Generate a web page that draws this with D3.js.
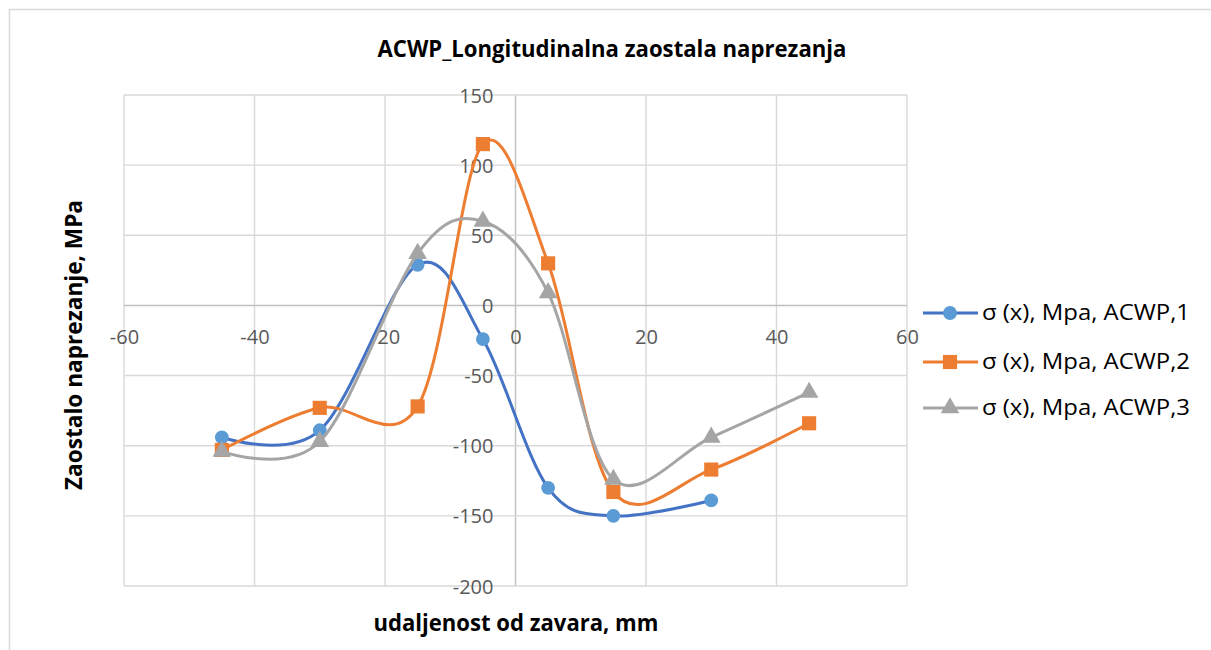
<!DOCTYPE html>
<html>
<head>
<meta charset="utf-8">
<script src="https://cdn.jsdelivr.net/npm/d3@7"></script>
<style>
  html, body { margin: 0; padding: 0; background: #fff; }
  svg { display: block; }
  text { font-family: "Open Sans", "Noto Sans", sans-serif; }
</style>
</head>
<body>
<svg id="chart" width="1211" height="650"></svg>
<script>
// Distance from the weld (mm) at each measuring point
const xValues = [-45, -30, -15, -5, 5, 15, 30, 45];

// Longitudinal residual stress σ(x), MPa, per specimen
const acwp1 = [-94, -89, 29, -24, -130, -150, -139];
const acwp2 = [-103, -73, -72, 115, 30, -133, -117, -84];
const acwp3 = [-104, -97, 37, 60, 9, -124, -94, -62];

const seriesNames = ["σ (x), Mpa, ACWP,1", "σ (x), Mpa, ACWP,2", "σ (x), Mpa, ACWP,3"];
const xTicks = [-60, -40, -20, 0, 20, 40, 60];
const yTicks = [-200, -150, -100, -50, 0, 50, 100, 150];

const titleText = "ACWP_Longitudinalna zaostala naprezanja";
const xTitle = "udaljenost od zavara, mm";
const yTitle = "Zaostalo naprezanje, MPa";

const series = [
  { name: seriesNames[0], values: acwp1, line: "#4472C4", fill: "#5B9BD5", symbol: d3.symbolCircle, size: 150 },
  { name: seriesNames[1], values: acwp2, line: "#ED7D31", fill: "#ED7D31", symbol: d3.symbolSquare, size: 200 },
  { name: seriesNames[2], values: acwp3, line: "#A5A5A5", fill: "#A5A5A5", symbol: d3.symbolTriangle, size: 150 }
];

const svg = d3.select("#chart");

// outer chart frame
svg.append("rect")
  .attr("x", 9.5).attr("y", 9.5)
  .attr("width", 1300).attr("height", 700)
  .attr("fill", "#fff")
  .attr("stroke", "#d9d9d9").attr("stroke-width", 1.5);

const plot = { left: 124, right: 907, top: 95, bottom: 586 };

const x = d3.scaleLinear().domain([-60, 60]).range([plot.left, plot.right]);
const y = d3.scaleLinear().domain([-200, 150]).range([plot.bottom, plot.top]);

// plain hyphen-minus tick labels
const fmt = d => String(d);

// gridlines
const grid = svg.append("g");
grid.selectAll("line.v").data(xTicks).join("line")
  .attr("x1", d => x(d)).attr("x2", d => x(d))
  .attr("y1", plot.top).attr("y2", plot.bottom)
  .attr("stroke", d => d === 0 ? "#bfbfbf" : "#d9d9d9")
  .attr("stroke-width", 1.4);
grid.selectAll("line.h").data(yTicks).join("line")
  .attr("y1", d => y(d)).attr("y2", d => y(d))
  .attr("x1", plot.left).attr("x2", plot.right)
  .attr("stroke", d => d === 0 ? "#bfbfbf" : "#d9d9d9")
  .attr("stroke-width", 1.4);

// axes crossing at zero
const xAxis = d3.axisBottom(x).tickValues(xTicks).tickFormat(fmt).tickSize(0).tickPadding(0);
const gx = svg.append("g").attr("transform", `translate(0,${y(0)})`).call(xAxis);
gx.select(".domain").remove();
gx.selectAll("text")
  .attr("dy", null).attr("y", 39)
  .attr("font-size", 20).attr("fill", "#595959")
  .attr("font-family", "'Open Sans', sans-serif");

const yAxis = d3.axisLeft(y).tickValues(yTicks).tickFormat(fmt).tickSize(0).tickPadding(0);
const gy = svg.append("g").attr("transform", `translate(${x(0)},0)`).call(yAxis);
gy.select(".domain").remove();
gy.selectAll("text")
  .attr("x", -22).attr("dy", "0.35em")
  .attr("font-size", 20).attr("fill", "#595959")
  .attr("font-family", "'Open Sans', sans-serif");

// series lines and markers
const line = d3.line()
  .x((d, i) => x(xValues[i]))
  .y(d => y(d))
  .curve(d3.curveCardinal.tension(0));

series.forEach(s => {
  const g = svg.append("g");
  g.append("path")
    .attr("d", line(s.values))
    .attr("fill", "none")
    .attr("stroke", s.line)
    .attr("stroke-width", 3)
    .attr("stroke-linejoin", "round")
    .attr("stroke-linecap", "round");
  g.selectAll("path.m").data(s.values).join("path")
    .attr("class", "m")
    .attr("transform", (d, i) => `translate(${x(xValues[i])},${y(d)})`)
    .attr("d", d3.symbol().type(s.symbol).size(s.size))
    .attr("fill", s.fill);
});

// title
svg.append("text")
  .attr("x", 612).attr("y", 57)
  .attr("text-anchor", "middle")
  .attr("font-size", 23).attr("font-weight", "bold").attr("fill", "#000")
  .attr("textLength", 469).attr("lengthAdjust", "spacingAndGlyphs")
  .text(titleText);

// axis titles
svg.append("text")
  .attr("x", 516).attr("y", 631)
  .attr("text-anchor", "middle")
  .attr("font-size", 23).attr("font-weight", "bold").attr("fill", "#000")
  .attr("textLength", 285).attr("lengthAdjust", "spacingAndGlyphs")
  .text(xTitle);

svg.append("text")
  .attr("transform", "translate(82,345) rotate(-90)")
  .attr("text-anchor", "middle")
  .attr("font-size", 23).attr("font-weight", "bold").attr("fill", "#000")
  .attr("textLength", 290).attr("lengthAdjust", "spacingAndGlyphs")
  .text(yTitle);

// legend
const legend = svg.append("g");
const legendY = [313, 362, 408];
series.forEach((s, i) => {
  const row = legend.append("g").attr("transform", `translate(0,${legendY[i]})`);
  row.append("line")
    .attr("x1", 923).attr("x2", 978)
    .attr("stroke", s.line).attr("stroke-width", 3);
  row.append("path")
    .attr("transform", "translate(950,0)")
    .attr("d", d3.symbol().type(s.symbol).size(s.size))
    .attr("fill", s.fill);
  row.append("text")
    .attr("x", 982).attr("dy", "0.35em")
    .attr("font-size", 21).attr("fill", "#000")
    .attr("textLength", 208).attr("lengthAdjust", "spacingAndGlyphs")
    .text(s.name);
});
</script>
</body>
</html>
